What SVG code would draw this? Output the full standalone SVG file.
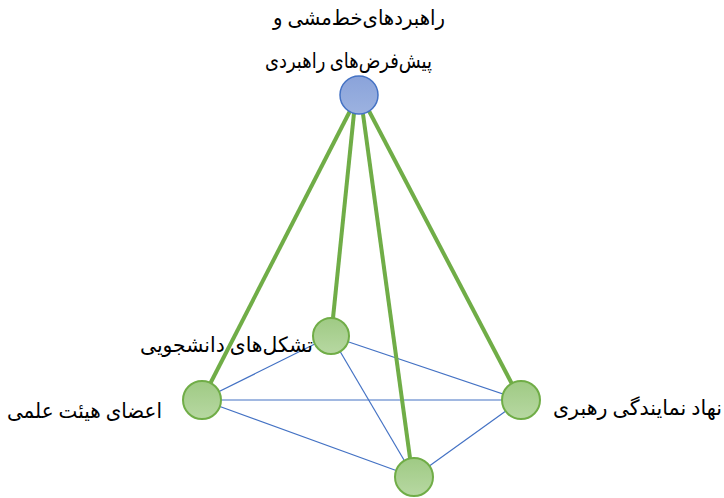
<svg xmlns="http://www.w3.org/2000/svg" width="724" height="498" viewBox="0 0 724 498">
<defs>
<linearGradient id="gg" x1="0" y1="0" x2="0" y2="1">
<stop offset="0" stop-color="#9fca84"/>
<stop offset="1" stop-color="#b7d8a2"/>
</linearGradient>
<linearGradient id="bg" x1="0" y1="0" x2="0" y2="1">
<stop offset="0" stop-color="#8aa3da"/>
<stop offset="1" stop-color="#9cb2e0"/>
</linearGradient>
<style>
.g{fill:url(#gg);stroke:#70ad47;stroke-width:2}
.b{fill:url(#bg);stroke:#4472c4;stroke-width:1.5}
.thick{stroke:#70ad47;stroke-width:4;fill:none}
.thin{stroke:#4472c4;stroke-width:1.2;fill:none}
text{font-family:"Liberation Serif","DejaVu Serif","DejaVu Sans",serif;font-size:21px;fill:#000;direction:rtl}
</style>
</defs>
<g id="connectors">
<line class="thin" x1="202" y1="400" x2="331" y2="336"/>
<line class="thin" x1="202" y1="400" x2="521" y2="400"/>
<line class="thin" x1="202" y1="400" x2="414" y2="477"/>
<line class="thin" x1="331" y1="336" x2="521" y2="400"/>
<line class="thin" x1="331" y1="336" x2="414" y2="477"/>
<line class="thin" x1="521" y1="400" x2="414" y2="477"/>
<line class="thick" x1="350" y1="111" x2="210" y2="384"/>
<line class="thick" x1="354" y1="113" x2="333" y2="318"/>
<line class="thick" x1="363" y1="114" x2="410" y2="458"/>
<line class="thick" x1="369" y1="111" x2="512" y2="384"/>
</g>
<g id="n-top">
<circle class="b" cx="359" cy="95" r="19"/>
<text x="359" y="25" text-anchor="middle" textLength="172" lengthAdjust="spacingAndGlyphs">راهبردهای‌خط‌مشی و</text>
<text x="348.5" y="68" text-anchor="middle" textLength="167" lengthAdjust="spacingAndGlyphs">پیش‌فرض‌های راهبردی</text>
</g>
<g id="n-students">
<circle class="g" cx="331" cy="336" r="18"/>
<text x="226.5" y="352" text-anchor="middle" textLength="173" lengthAdjust="spacingAndGlyphs">تشکل‌های دانشجویی</text>
</g>
<g id="n-faculty">
<circle class="g" cx="202" cy="400" r="19"/>
<text x="84.5" y="418" text-anchor="middle" textLength="155" lengthAdjust="spacingAndGlyphs">اعضای هیئت علمی</text>
</g>
<g id="n-leader">
<circle class="g" cx="521" cy="400" r="19"/>
<text x="637.5" y="415" text-anchor="middle" textLength="169" lengthAdjust="spacingAndGlyphs">نهاد نمایندگی رهبری</text>
</g>
<g id="n-bottom">
<circle class="g" cx="414" cy="477" r="19"/>
</g>
</svg>
